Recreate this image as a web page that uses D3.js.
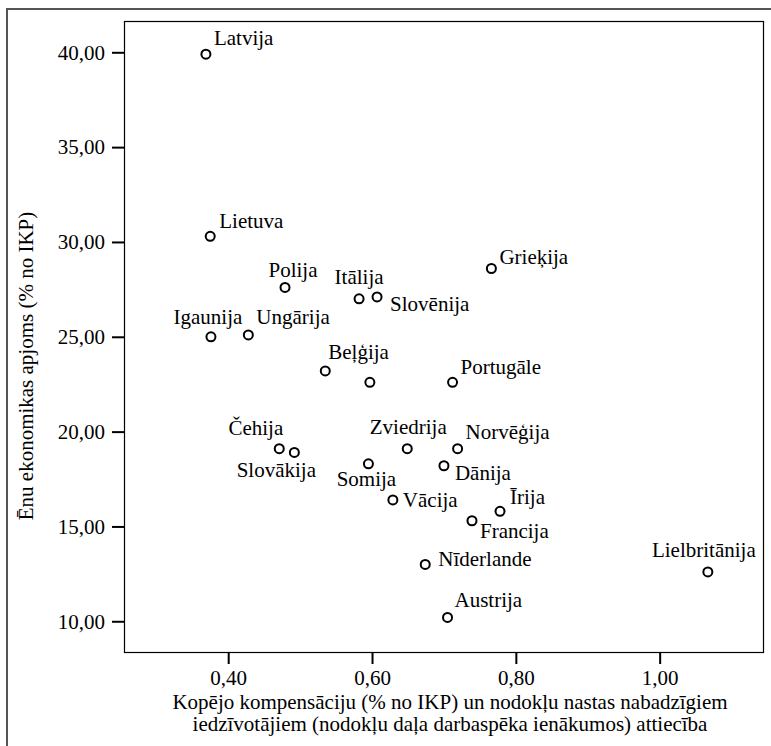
<!DOCTYPE html>
<html>
<head>
<meta charset="utf-8">
<script src="https://cdnjs.cloudflare.com/ajax/libs/d3/7.8.5/d3.min.js"></script>
</head>
<body style="margin:0">
<svg id="chart" width="771" height="746" font-family="Liberation Serif"></svg>
<script>
// ---- Data ----
const countries = ["Latvija","Lietuva","Polija","Itālija","Slovēnija","Grieķija","Igaunija","Ungārija",
  "Beļģija","","Portugāle","Čehija","Slovākija","Somija","Zviedrija","Norvēģija","Dānija","Vācija",
  "Īrija","Francija","Nīderlande","Austrija","Lielbritānija"];
const xValues = [0.369,0.375,0.479,0.582,0.607,0.766,0.376,0.428,
  0.535,0.597,0.712,0.471,0.492,0.595,0.649,0.719,0.700,0.629,
  0.778,0.739,0.674,0.705,1.067];
const yValues = [39.9,30.3,27.6,27.0,27.1,28.6,25.0,25.1,
  23.2,22.6,22.6,19.1,18.9,18.3,19.1,19.1,18.2,16.4,
  15.8,15.3,13.0,10.2,12.6];
const xTicks = [0.4,0.6,0.8,1.0];
const yTicks = [10,15,20,25,30,35,40];
const xTitle = ["Kopējo kompensāciju (% no IKP) un nodokļu nastas nabadzīgiem",
                "iedzīvotājiem (nodokļu daļa darbaspēka ienākumos) attiecība"];
const yTitle = "Ēnu ekonomikas apjoms (% no IKP)";

// ---- Label placement (style) ----
const labelPos = {
  "Latvija":[8,-9,"start"], "Lietuva":[9,-8,"start"], "Polija":[8,-10,"middle"],
  "Itālija":[0,-15,"middle"], "Slovēnija":[13,14,"start"], "Grieķija":[8,-5,"start"],
  "Igaunija":[-3,-13,"middle"], "Ungārija":[8,-11,"start"], "Beļģija":[3,-12,"start"],
  "Portugāle":[8,-8,"start"], "Čehija":[4,-14,"end"], "Slovākija":[-18,25,"middle"],
  "Somija":[-2,22,"middle"], "Zviedrija":[1,-15,"middle"], "Norvēģija":[8,-10,"start"],
  "Dānija":[11,14,"start"], "Vācija":[10,7,"start"], "Īrija":[10,-7,"start"],
  "Francija":[8,17,"start"], "Nīderlande":[13,2,"start"], "Austrija":[7,-10,"start"],
  "Lielbritānija":[-4,-15,"middle"]
};

const FS = 21;
const svg = d3.select("#chart");
const L = 124, R = 763, T = 21, B = 652;
const x = d3.scaleLinear().domain([0.2551, 1.1437]).range([L, R]);
const y = d3.scaleLinear().domain([8.38, 41.65]).range([B, T]);
const fmt = v => d3.format(".2f")(v).replace(".", ",");

function tt(sel) {
  sel.attr("font-family", "Liberation Serif")
     .style("font-family", '"Liberation Serif"')
     .attr("font-size", FS)
     .attr("fill", "#000");
}

// outer frame
svg.append("rect").attr("x", 7).attr("y", 9).attr("width", 800).attr("height", 800)
  .attr("fill", "none").attr("stroke", "#555").attr("stroke-width", 2);

// plot frame
svg.append("rect").attr("x", L + 0.5).attr("y", T + 0.5).attr("width", R - L).attr("height", B - T)
  .attr("fill", "none").attr("stroke", "#000").attr("stroke-width", 1.2);

// axes
const xAxis = d3.axisBottom(x).tickValues(xTicks).tickFormat(fmt).tickSize(12).tickPadding(6);
const gx = svg.append("g").attr("transform", `translate(0,${B})`).call(xAxis);
gx.attr("font-family", "Liberation Serif").attr("font-size", FS);
gx.select(".domain").remove();
gx.selectAll("line").attr("stroke", "#000").attr("stroke-width", 2);
gx.selectAll("text").call(tt);

const yAxis = d3.axisLeft(y).tickValues(yTicks).tickFormat(fmt).tickSize(12).tickPadding(7);
const gy = svg.append("g").attr("transform", `translate(${L},0)`).call(yAxis);
gy.attr("font-family", "Liberation Serif").attr("font-size", FS);
gy.select(".domain").remove();
gy.selectAll("line").attr("stroke", "#000").attr("stroke-width", 2);
gy.selectAll("text").call(tt);

// axis titles
svg.append("text").attr("x", 450).attr("y", 709).attr("text-anchor", "middle").call(tt);
svg.selectAll("text").filter(function(){ return !this.textContent; }).text(xTitle[0]);
svg.append("text").attr("x", 450).attr("y", 731).attr("text-anchor", "middle").text(xTitle[1]).call(tt);
svg.append("text").attr("transform", "translate(33,366) rotate(-90)").attr("text-anchor", "middle")
  .text(yTitle).call(tt);

// points
const data = countries.map((c, i) => ({ name: c, x: xValues[i], y: yValues[i] }));
svg.append("g").selectAll("circle").data(data).join("circle")
  .attr("cx", d => x(d.x)).attr("cy", d => y(d.y)).attr("r", 4.5)
  .attr("fill", "#fff").attr("stroke", "#000").attr("stroke-width", 2);

svg.append("g").selectAll("text").data(data.filter(d => d.name)).join("text")
  .attr("x", d => x(d.x) + labelPos[d.name][0])
  .attr("y", d => y(d.y) + labelPos[d.name][1])
  .attr("text-anchor", d => labelPos[d.name][2])
  .text(d => d.name).call(tt);
</script>
</body>
</html>
